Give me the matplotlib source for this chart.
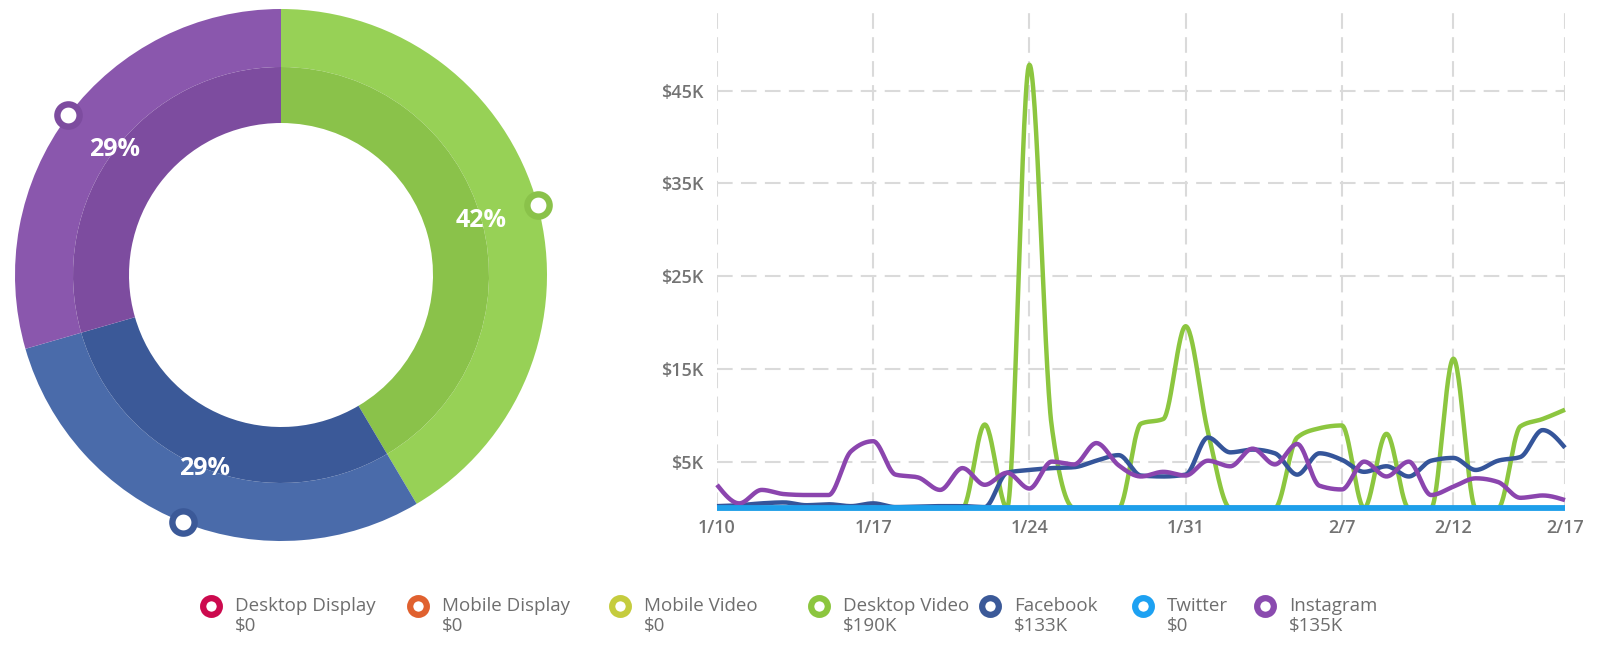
import numpy as np
import pandas as pd
import matplotlib
matplotlib.use("Agg")
import matplotlib.pyplot as plt
import matplotlib.dates as mdates

plt.rcParams['font.family'] = ['Open Sans', 'DejaVu Sans']

# ---------------- data ----------------
start_date = "2018-01-10"
dates = pd.date_range(start_date, "2018-02-17", freq="D")

desktop_video = [0, 0, 0, 0, 0, 0, 0, 0, 0, 0,
                 0, 0, 9.0, 0, 47.8, 8.8, 0, 0, 0, 9.1,
                 9.6, 19.6, 8.2, 0, 0, 0, 7.6, 8.6, 8.9, 0,
                 8.0, 0, 0, 16.1, 0, 0, 8.8, 9.6, 10.6]
facebook = [0.2, 0.3, 0.5, 0.6, 0.3, 0.4, 0.2, 0.5, 0.1, 0.15,
            0.2, 0.2, 0.1, 3.8, 4.1, 4.3, 4.4, 5.1, 5.7, 3.5,
            3.4, 3.6, 7.6, 6.0, 6.3, 5.9, 3.6, 5.9, 5.2, 3.9,
            4.5, 3.4, 5.1, 5.4, 4.1, 5.1, 5.5, 8.4, 6.5]
instagram = [2.5, 0.5, 1.95, 1.5, 1.4, 1.4, 6.1, 7.2, 3.6, 3.3,
             1.95, 4.3, 2.5, 3.8, 2.1, 5.0, 4.7, 7.0, 4.6, 3.4,
             3.9, 3.5, 5.1, 4.5, 6.4, 4.7, 6.9, 2.4, 2.0, 5.0,
             3.4, 5.0, 1.4, 2.3, 3.2, 2.8, 1.1, 1.35, 0.85]
twitter = [0, 0, 0, 0, 0, 0, 0, 0, 0, 0,
           0, 0, 0, 0, 0, 0, 0, 0, 0, 0,
           0, 0, 0, 0, 0, 0, 0, 0, 0, 0,
           0, 0, 0, 0, 0, 0, 0, 0, 0]

channels = ["Desktop Display", "Mobile Display", "Mobile Video", "Desktop Video",
            "Facebook", "Twitter", "Instagram"]
totals_k = [0, 0, 0, 190, 133, 0, 135]

x_tick_labels = ["1/10", "1/17", "1/24", "1/31", "2/7", "2/12", "2/17"]
y_ticks_k = [5, 15, 25, 35, 45]

# ---------------- styles ----------------
legend_colors = ["#CC0A4E", "#E0612F", "#C5CC3E", "#8CC63F", "#3B5998", "#1DA1F2", "#8A4BAF"]
ring_outer = {"Desktop Video": "#97D156", "Facebook": "#4A6BAA", "Instagram": "#8A57AD"}
ring_inner = {"Desktop Video": "#8AC24A", "Facebook": "#3B5998", "Instagram": "#7D4C9F"}
line_colors = {"Desktop Video": "#8CC63F", "Facebook": "#35559A", "Instagram": "#8B45AE",
               "Twitter": "#1E9FEA"}
text_gray = "#737373"
grid_gray = "#DADADA"


def monotone_x(x, y, n=30):
    x = np.asarray(x, float)
    y = np.asarray(y, float)
    h = np.diff(x)
    s = np.diff(y) / h
    t = np.zeros_like(y)
    for i in range(1, len(y) - 1):
        s0, s1 = s[i - 1], s[i]
        p = (s0 * h[i] + s1 * h[i - 1]) / (h[i - 1] + h[i])
        t[i] = (np.sign(s0) + np.sign(s1)) * min(abs(s0), abs(s1), 0.5 * abs(p))
    t[0] = (3 * s[0] - t[1]) / 2
    t[-1] = (3 * s[-1] - t[-2]) / 2
    xs, ys = [], []
    u = np.linspace(0, 1, n, endpoint=False)
    h00 = 2 * u**3 - 3 * u**2 + 1
    h10 = u**3 - 2 * u**2 + u
    h01 = -2 * u**3 + 3 * u**2
    h11 = u**3 - u**2
    for i in range(len(y) - 1):
        xs.append(x[i] + u * h[i])
        ys.append(h00 * y[i] + h10 * h[i] * t[i] + h01 * y[i + 1] + h11 * h[i] * t[i + 1])
    xs.append([x[-1]])
    ys.append([y[-1]])
    return np.concatenate(xs), np.concatenate(ys)


def largest_remainder_percent(vals):
    vals = np.asarray(vals, float)
    raw = vals / vals.sum() * 100
    fl = np.floor(raw).astype(int)
    rem = raw - fl
    short = 100 - fl.sum()
    for i in np.argsort(-rem)[:short]:
        fl[i] += 1
    return fl


W, H = 1600, 655
fig = plt.figure(figsize=(W / 100, H / 100), dpi=100)

# ---------------- donut ----------------
cx, cy, half = 281, 275, 280
dax = fig.add_axes([(cx - half) / W, 1 - (cy + half) / H, 2 * half / W, 2 * half / H])

pie_order = ["Desktop Video", "Facebook", "Instagram"]
pie_vals = [totals_k[channels.index(c)] for c in pie_order]
R_out, R_mid, R_in = 266, 208, 152
wedges, _ = dax.pie(pie_vals, radius=R_out, startangle=90, counterclock=False,
                    colors=[ring_outer[c] for c in pie_order],
                    wedgeprops=dict(width=R_out - R_mid, linewidth=0))
dax.pie(pie_vals, radius=R_mid, startangle=90, counterclock=False,
        colors=[ring_inner[c] for c in pie_order],
        wedgeprops=dict(width=R_mid - R_in, linewidth=0))
dax.set_xlim(-half, half)
dax.set_ylim(-half, half)
dax.set_aspect("equal")
dax.axis("off")
pcts = largest_remainder_percent(pie_vals)
for w, c, pc in zip(wedges, pie_order, pcts):
    mid = np.deg2rad((w.theta1 + w.theta2) / 2)
    dax.text(R_mid * np.cos(mid), R_mid * np.sin(mid), f"{pc}%",
             color="white", fontsize=18, fontweight="bold", ha="center", va="center")
    dax.plot([R_out * np.cos(mid)], [R_out * np.sin(mid)], marker="o", ms=16,
             mfc="white", mec=ring_inner[c], mew=4.6, clip_on=False, zorder=5)

# ---------------- line chart ----------------
left, right, top, bottom = 717, 1565, 10, 508
ax = fig.add_axes([left / W, 1 - bottom / H, (right - left) / W, (bottom - top) / H])
xnum = mdates.date2num(dates)
ax.set_xlim(xnum[0], xnum[-1])
ax.set_ylim(0, 53.7)

for name, series, lw in [("Desktop Video", desktop_video, 3.2),
                         ("Facebook", facebook, 3.2),
                         ("Instagram", instagram, 3.2),
                         ("Twitter", twitter, 4.2)]:
    xs, ys = monotone_x(xnum, series)
    ax.plot(xs, ys, color=line_colors[name], lw=lw, clip_on=False,
            solid_capstyle="butt", solid_joinstyle="round", zorder=3)

tick_dates = [pd.Timestamp(f"2018-{lbl.split('/')[0]}-{lbl.split('/')[1]}") for lbl in x_tick_labels]
ax.set_xticks(mdates.date2num(tick_dates))
ax.set_xticklabels(x_tick_labels)
ax.set_yticks(y_ticks_k)
ax.set_yticklabels([f"${v}K" for v in y_ticks_k])
ax.tick_params(length=0, colors=text_gray, labelsize=13)
for lbl in ax.get_xticklabels() + ax.get_yticklabels():
    lbl.set_fontweight("semibold")
ax.tick_params(axis="x", pad=8)
ax.tick_params(axis="y", pad=10)
ax.grid(True, color=grid_gray, lw=1.5, linestyle=(0, (7.5, 4)), zorder=0)
for sp in ax.spines.values():
    sp.set_visible(False)
ax.set_axisbelow(True)

# ---------------- legend ----------------
leg_x = [211, 418, 620, 819, 990, 1143, 1265]
leg_y = 606
lax = fig.add_axes([0, 0, 1, 1])
lax.set_xlim(0, W)
lax.set_ylim(H, 0)
lax.axis("off")
for xpos, name, val, col in zip(leg_x, channels, totals_k, legend_colors):
    lax.plot([xpos], [leg_y], marker="o", ms=12, mfc="white", mec=col, mew=4.5)
    lax.text(xpos + 24, leg_y, name, color="#6E6E6E", fontsize=13.5, va="center", ha="left")
    lax.text(xpos + 24, leg_y + 20, f"${val}K" if val else "$0", color="#6E6E6E",
             fontsize=13.5, va="center", ha="left")

fig.savefig("out.png", dpi=100, facecolor="white")
